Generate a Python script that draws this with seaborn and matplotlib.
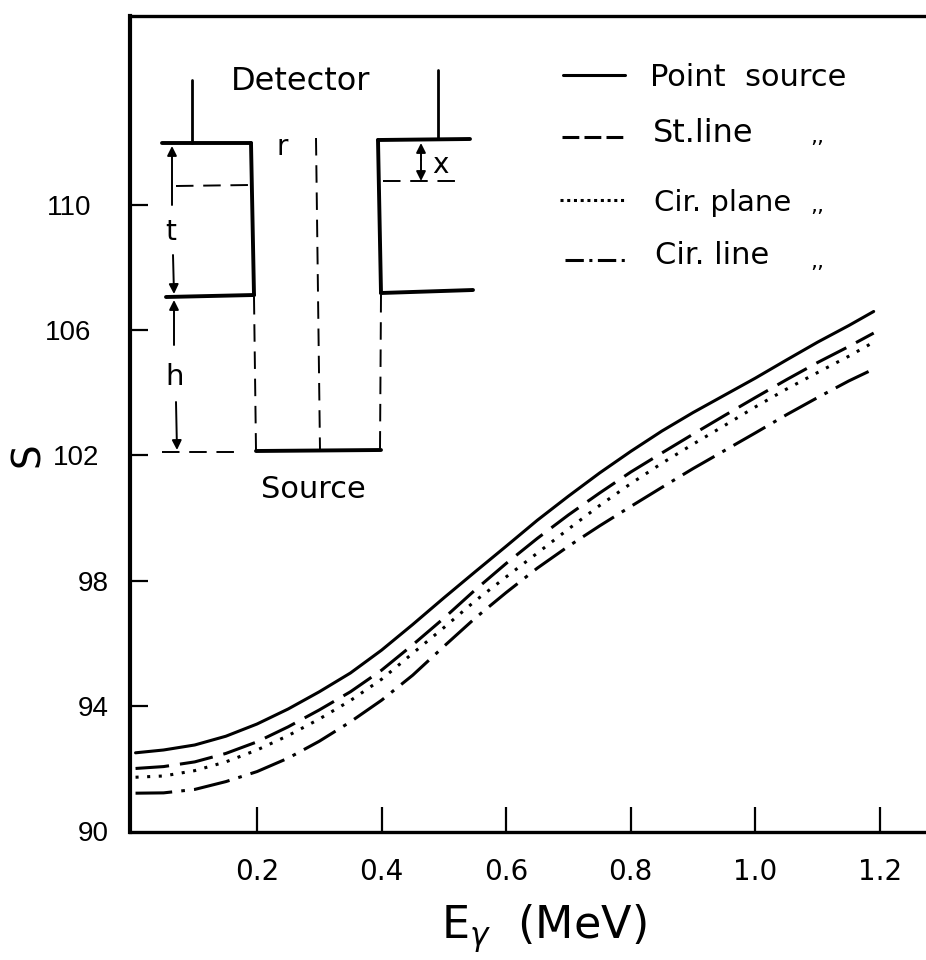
import pandas as pd
import matplotlib
matplotlib.use("Agg")
import matplotlib.pyplot as plt
import seaborn as sns

# valores
energy = [0.005, 0.05, 0.10, 0.15, 0.20, 0.25, 0.30, 0.35, 0.40, 0.45, 0.50, 0.55, 0.60,
          0.65, 0.70, 0.75, 0.80, 0.85, 0.90, 0.95, 1.00, 1.05, 1.10, 1.15, 1.19]
point_source = [92.50, 92.59, 92.75, 93.03, 93.42, 93.90, 94.45, 95.05, 95.78, 96.60, 97.45, 98.28, 99.10,
                99.93, 100.70, 101.44, 102.13, 102.78, 103.37, 103.92, 104.47, 105.05, 105.62, 106.15, 106.60]
st_line = [92.00, 92.06, 92.21, 92.48, 92.85, 93.33, 93.87, 94.45, 95.14, 95.95, 96.80, 97.70, 98.55,
           99.35, 100.10, 100.80, 101.47, 102.08, 102.68, 103.27, 103.85, 104.42, 104.97, 105.48, 105.91]
cir_plane = [91.72, 91.76, 91.93, 92.21, 92.59, 93.05, 93.58, 94.17, 94.85, 95.68, 96.50, 97.35, 98.12,
             98.88, 99.65, 100.40, 101.10, 101.75, 102.36, 102.95, 103.55, 104.12, 104.65, 105.17, 105.62]
cir_line = [91.21, 91.22, 91.33, 91.58, 91.90, 92.33, 92.87, 93.49, 94.18, 94.98, 95.90, 96.80, 97.62,
            98.40, 99.10, 99.75, 100.37, 100.98, 101.58, 102.15, 102.72, 103.30, 103.85, 104.38, 104.76]
curve_names = ["Point source", "St.line", "Cir. plane", "Cir. line"]
x_ticks = [0.2, 0.4, 0.6, 0.8, 1.0, 1.2]
y_ticks = [90, 94, 98, 102, 106, 110]

df = pd.DataFrame({"energy": energy * 4,
                   "S": point_source + st_line + cir_plane + cir_line,
                   "curve": [n for n in curve_names for _ in energy]})

sns.set_style("ticks", {"text.color": "black", "xtick.color": "black", "ytick.color": "black",
                        "axes.labelcolor": "black", "axes.edgecolor": "black"})
plt.rcParams["font.family"] = ["DejaVu Sans"]

W, H = 926, 960
fig = plt.figure(figsize=(W / 100, H / 100), dpi=100, facecolor="white")
ax = fig.add_axes([130 / W, 1 - 832 / H, 796 / W, 816 / H])

dash_styles = {"Point source": "", "St.line": (11, 3.6), "Cir. plane": (1, 2.8), "Cir. line": (12, 3, 1.2, 3)}
sns.lineplot(data=df, x="energy", y="S", hue="curve", style="curve",
             palette=["black"] * 4, dashes=dash_styles, linewidth=2.2, legend=False, ax=ax)

ax.set_xlim(-0.0039, 1.274)
ax.set_ylim(89.97, 116.04)
ax.set_xticks(x_ticks)
ax.set_xticklabels([f"{t:.1f}" for t in x_ticks])
ax.set_yticks(y_ticks)
ax.set_yticklabels([str(t) for t in y_ticks])
ax.tick_params(axis="x", direction="in", length=18, width=1.6, pad=19, labelsize=20)
ax.tick_params(axis="y", direction="in", length=13, width=1.6, pad=15, labelsize=20)
for lab in ax.get_yticklabels():
    lab.set_fontfamily("Liberation Sans")
# 102, 106 e 110 ficam mais afastados do eixo; 90 não tem traço
y_major = ax.yaxis.get_major_ticks()
y_major[0].tick1line.set_visible(False)
y_major[3].set_pad(22)
y_major[4].set_pad(28)
y_major[5].set_pad(28)

ax.spines["right"].set_visible(False)
ax.spines["top"].set_linewidth(2.4)
ax.spines["left"].set_linewidth(3)
ax.spines["bottom"].set_linewidth(2.4)

ax.set_xlabel(r"E$_{\gamma}$  (MeV)", fontsize=32)
ax.xaxis.set_label_coords(0.52, -0.086)
ax.set_ylabel("S", fontsize=28)
ax.yaxis.set_label_coords(-0.104, 0.462)

# esquema do detector, em pixels da figura
ov = fig.add_axes([0, 0, 1, 1], facecolor="none")
ov.set_xlim(0, W)
ov.set_ylim(H, 0)
ov.axis("off")

thick = [((162, 143), (251, 143)), ((251, 143), (254, 295)), ((254, 295), (166, 297)),
         ((378, 140), (470, 139)), ((378, 140), (381, 293)), ((381, 293), (473, 290)),
         ((256, 451), (381, 450))]
leads = [((192, 80), (192, 143)), ((438, 70), (438, 139))]
dashed = [((316, 138), (320, 450)), ((254, 297), (256, 450)), ((381, 295), (380, 450)),
          ((176, 186), (250, 185)), ((383, 181), (456, 181)), ((162, 452), (240, 452))]
for a, b in thick:
    ov.plot([a[0], b[0]], [a[1], b[1]], color="black", lw=2.8, solid_capstyle="round")
for a, b in leads:
    ov.plot([a[0], b[0]], [a[1], b[1]], color="black", lw=2.0)
for a, b in dashed:
    ov.plot([a[0], b[0]], [a[1], b[1]], color="black", lw=1.4, dashes=(9, 5))

arrows = [((172, 205), (172, 146)), ((173, 255), (174, 294)), ((174, 345), (174, 300)),
          ((176, 402), (177, 450)), ((421, 160), (421, 143)), ((421, 160), (421, 181))]
for start, end in arrows:
    ov.annotate("", xy=end, xytext=start,
                arrowprops=dict(arrowstyle="-|>", color="black", lw=1.4, shrinkA=0, shrinkB=0, mutation_scale=14))

labels = [("Detector", 301, 82, 23), ("Source", 313, 490, 22), ("r", 282, 147, 20),
          ("t", 171, 232, 20), ("h", 175, 377, 21), ("x", 440, 165, 20)]
for txt, px, py, fs in labels:
    ov.text(px, py, txt, ha="center", va="center", fontsize=fs)

# legenda desenhada à mão, como no original
legend_lines = [(75, ""), (137, (5.5, 1.7)), (200, (1, 1.2)), (260, (6, 1.8, 1, 1.8))]
for (py, dash), lx in zip(legend_lines, [563, 562, 560, 565]):
    line, = ov.plot([lx, 625], [py, py], color="black", lw=2.2)
    if dash:
        line.set_dashes(dash)
legend_rows = [("Point  source", 650, 77, 22), ("St.line", 653, 133, 23), ("Cir. plane", 654, 203, 21),
               ("Cir. line", 655, 255, 22)]
for txt, px, py, fs in legend_rows:
    ov.text(px, py, txt, ha="left", va="center", fontsize=fs)
for py in [137, 206, 262]:
    ov.text(817, py, ",,", ha="center", va="center", fontsize=16)

fig.savefig("out.png", dpi=100)
